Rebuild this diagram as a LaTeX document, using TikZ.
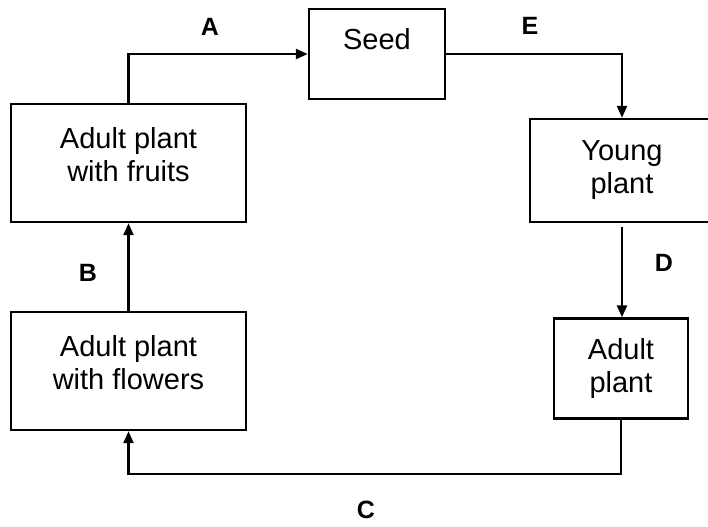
\documentclass[tikz,border=0pt]{standalone}
\usepackage{fontspec}
\setmainfont{Liberation Sans}
\usetikzlibrary{arrows.meta}

\begin{document}
\begin{tikzpicture}[x=0.5pt, y=-0.5pt,
  stage/.style={draw, line width=1.2pt, align=center, inner sep=0pt, font=\fontsize{14.5}{16.5}\selectfont},
  flow/.style={line width=1.2pt, -{Triangle[length=6pt, width=5pt]}},
  letter/.style={font=\fontsize{12.5}{14}\selectfont\bfseries}]
\useasboundingbox (0,0) rectangle (708,526);
\clip (0,0) rectangle (708,526);
% stages of the life cycle
\node[stage, minimum width=68pt, minimum height=45pt, text height=10.5pt, text depth=15.5pt] (seed) at (377,54) {Seed};
\node[stage, minimum width=117.5pt, minimum height=59pt, text depth=9pt] (fruits) at (128.5,163) {Adult plant\\with fruits};
\node[stage, minimum width=117.5pt, minimum height=59pt, text depth=9pt] (flowers) at (128.5,371) {Adult plant\\with flowers};
\node[stage, minimum width=92pt, minimum height=51.5pt] (young) at (622,170.5) {Young\\plant};
\node[stage, minimum width=67pt, minimum height=50pt] (adult) at (621,368.5) {Adult\\plant};
% arrows
\draw[flow] (fruits.north) |- (seed.west);
\draw[flow] (seed.east) -| (young.north);
\draw[flow, shorten <=2pt] (young.south) -- (young.south |- adult.north);
\draw[flow] (adult.south) -- ++(0,54.5) -| (flowers.south);
\draw[flow] (flowers.north) -- (fruits.south);
% letters
\node[letter] (labA) at (210,27) {A};
\node[letter] (labE) at (530,26) {E};
\node[letter] (labB) at (88,273) {B};
\node[letter] (labD) at (664,263) {D};
\node[letter] (labC) at (366,510) {C};
\end{tikzpicture}
\end{document}
